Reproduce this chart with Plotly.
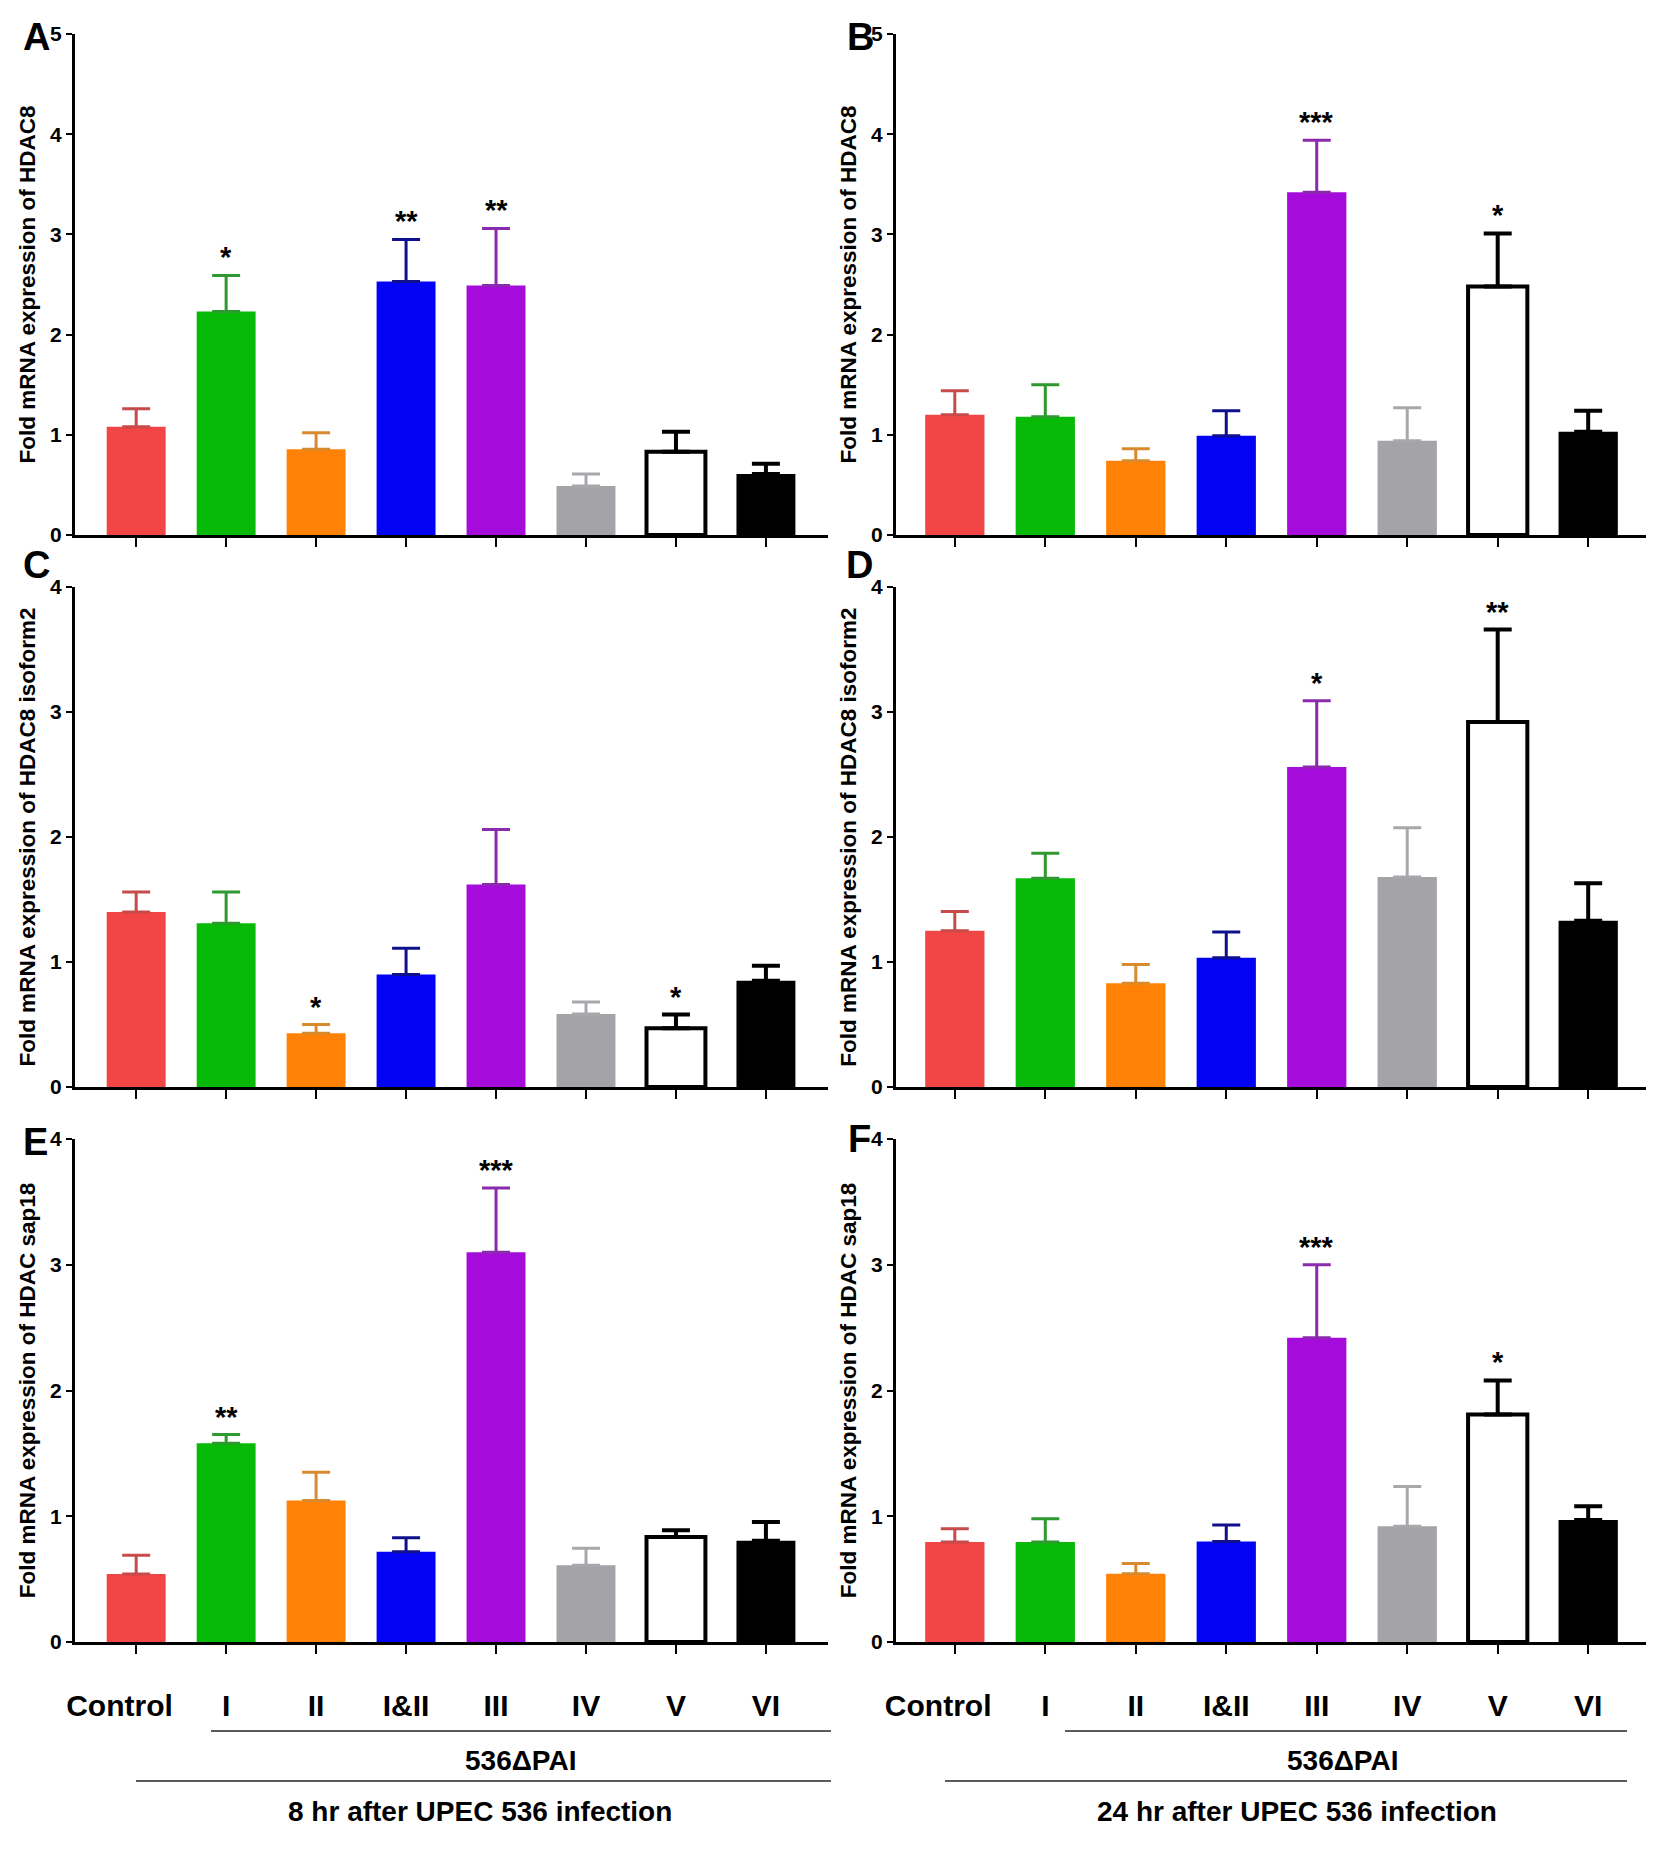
import plotly.graph_objs as go
from plotly.subplots import make_subplots

# Groups on the x axis
categories = ["Control", "I", "II", "I&II", "III", "IV", "V", "VI"]

# Bar fill / outline / error bar colours (one per group)
bar_colors = ["#F24545", "#08BA08", "#FF8207", "#0202F5", "#A50CDB", "#A3A3A8", "#FFFFFF", "#000000"]
edge_colors = ["#F24545", "#08BA08", "#FF8207", "#0202F5", "#A50CDB", "#A3A3A8", "#000000", "#000000"]
err_colors = ["#C84B4B", "#2E992E", "#D98A2E", "#10108C", "#8A2BAE", "#A8A8AC", "#000000", "#000000"]

# A - HDAC8, 8 hr
a_mean = [1.08, 2.23, 0.855, 2.53, 2.49, 0.49, 0.83, 0.61]
a_sem = [0.18, 0.36, 0.165, 0.42, 0.57, 0.12, 0.20, 0.10]
a_star = ["", "*", "", "**", "**", "", "", ""]

# B - HDAC8, 24 hr
b_mean = [1.20, 1.18, 0.74, 0.99, 3.42, 0.94, 2.48, 1.03]
b_sem = [0.24, 0.32, 0.12, 0.25, 0.52, 0.33, 0.53, 0.21]
b_star = ["", "", "", "", "***", "", "*", ""]

# C - HDAC8 isoform2, 8 hr
c_mean = [1.40, 1.31, 0.43, 0.90, 1.62, 0.585, 0.47, 0.85]
c_sem = [0.16, 0.25, 0.07, 0.21, 0.44, 0.095, 0.11, 0.12]
c_star = ["", "", "*", "", "", "", "*", ""]

# D - HDAC8 isoform2, 24 hr
d_mean = [1.25, 1.67, 0.83, 1.035, 2.56, 1.68, 2.92, 1.33]
d_sem = [0.155, 0.20, 0.15, 0.205, 0.53, 0.395, 0.74, 0.30]
d_star = ["", "", "", "", "*", "", "**", ""]

# E - HDAC sap18, 8 hr
e_mean = [0.54, 1.58, 1.125, 0.717, 3.10, 0.61, 0.834, 0.806]
e_sem = [0.15, 0.07, 0.225, 0.113, 0.51, 0.136, 0.054, 0.148]
e_star = ["", "**", "", "", "***", "", "", ""]

# F - HDAC sap18, 24 hr
f_mean = [0.795, 0.795, 0.543, 0.80, 2.42, 0.92, 1.81, 0.97]
f_sem = [0.105, 0.185, 0.082, 0.13, 0.58, 0.316, 0.27, 0.11]
f_star = ["", "", "", "", "***", "", "*", ""]

panel_letters = ["A", "B", "C", "D", "E", "F"]
y_titles = ["Fold mRNA expression of HDAC8", "Fold mRNA expression of HDAC8",
            "Fold mRNA expression of HDAC8 isoform2", "Fold mRNA expression of HDAC8 isoform2",
            "Fold mRNA expression of HDAC sap18", "Fold mRNA expression of HDAC sap18"]
y_max = [5, 5, 4, 4, 4, 4]
group_label = "536ΔPAI"
time_labels = ["8 hr after UPEC 536 infection", "24 hr after UPEC 536 infection"]

panels = [(a_mean, a_sem, a_star), (b_mean, b_sem, b_star),
          (c_mean, c_sem, c_star), (d_mean, d_sem, d_star),
          (e_mean, e_sem, e_star), (f_mean, f_sem, f_star)]

W, H = 1654, 1850
FONT = "Liberation Sans, Arial, sans-serif"

# pixel layout of the axes boxes
x_dom = [(67 / W, 820 / W), (888 / W, 1639 / W)]
x_rng = [(-0.68, 7.69), (-0.65, 7.65)]
y_dom = [(1 - 527 / H, 1 - 26 / H), (1 - 1079 / H, 1 - 579 / H), (1 - 1634 / H, 1 - 1131 / H)]
letter_pos = [(28, 29), (852, 29), (28, 557), (851, 557), (27, 1134), (851, 1131)]

# Control label sits a little left of its bar in the original
tick_text = [c + "&nbsp;&nbsp;&nbsp;&nbsp;" if c == "Control" else c for c in categories]

fig = make_subplots(rows=3, cols=2)

for p, (mean, sem, star) in enumerate(panels):
    row, col = p // 2 + 1, p % 2 + 1
    n = p + 1
    for i, cat in enumerate(categories):
        fig.add_trace(go.Bar(
            x=[cat], y=[mean[i]], width=0.655,
            marker=dict(color=bar_colors[i], line=dict(color=edge_colors[i], width=4 if i == 6 else 0)),
            error_y=dict(type="data", array=[sem[i]], arrayminus=[0], symmetric=False,
                         color=err_colors[i], thickness=4 if i >= 6 else 3, width=14),
        ), row=row, col=col)
        if star[i]:
            fig.add_annotation(x=cat, y=mean[i] + sem[i], xref=f"x{n}", yref=f"y{n}",
                               text=f"<b>{star[i]}</b>", showarrow=False, yanchor="middle", yshift=18,
                               font=dict(family=FONT, size=29, color="black"))

    bottom = row == 3
    fig.update_xaxes(domain=x_dom[col - 1], range=x_rng[col - 1], automargin=False, showline=True,
                     linecolor="black", linewidth=3, ticks="outside", ticklen=9, tickwidth=2,
                     tickcolor="black", showgrid=False, zeroline=False, showticklabels=bottom,
                     ticklabelstandoff=26, tickvals=categories, ticktext=tick_text,
                     tickfont=dict(family=FONT, size=30, color="black", weight="bold"),
                     row=row, col=col)
    fig.update_yaxes(domain=y_dom[row - 1], range=[0, y_max[p]], dtick=1, automargin=False,
                     showline=True, linecolor="black", linewidth=3, ticks="outside", ticklen=6,
                     tickwidth=2, tickcolor="black", showgrid=False, zeroline=False,
                     tickfont=dict(family=FONT, size=21, color="black", weight="bold"),
                     title=dict(text=y_titles[p], standoff=9,
                                font=dict(family=FONT, size=22.5, color="black", weight="bold")),
                     row=row, col=col)

    lx, ly = letter_pos[p]
    fig.add_annotation(x=lx / W, y=1 - ly / H, xref="paper", yref="paper", text=f"<b>{panel_letters[p]}</b>",
                       showarrow=False, xanchor="center", yanchor="middle",
                       font=dict(family=FONT, size=38, color="black"))

# group brackets under the bottom panels
brackets = [((203, 823), (128, 823), 512, 472), ((1057, 1619), (937, 1619), 1334, 1289)]
for k, (l1, l2, gx, tx) in enumerate(brackets):
    fig.add_shape(type="line", xref="paper", yref="paper", x0=l1[0] / W, x1=l1[1] / W,
                  y0=1 - 1723 / H, y1=1 - 1723 / H, line=dict(color="#5A5A5A", width=2))
    fig.add_shape(type="line", xref="paper", yref="paper", x0=l2[0] / W, x1=l2[1] / W,
                  y0=1 - 1773 / H, y1=1 - 1773 / H, line=dict(color="#5A5A5A", width=2))
    fig.add_annotation(x=gx / W, y=1 - 1752 / H, xref="paper", yref="paper", text=f"<b>{group_label}</b>",
                       showarrow=False, xanchor="center", yanchor="middle",
                       font=dict(family=FONT, size=28, color="black"))
    fig.add_annotation(x=tx / W, y=1 - 1803 / H, xref="paper", yref="paper", text=f"<b>{time_labels[k]}</b>",
                       showarrow=False, xanchor="center", yanchor="middle",
                       font=dict(family=FONT, size=28, color="black"))

fig.update_layout(width=W, height=H, barmode="overlay", showlegend=False,
                  plot_bgcolor="white", paper_bgcolor="white",
                  margin=dict(l=0, r=0, t=0, b=0),
                  font=dict(family=FONT, color="black"))

fig.write_html("out.html")
